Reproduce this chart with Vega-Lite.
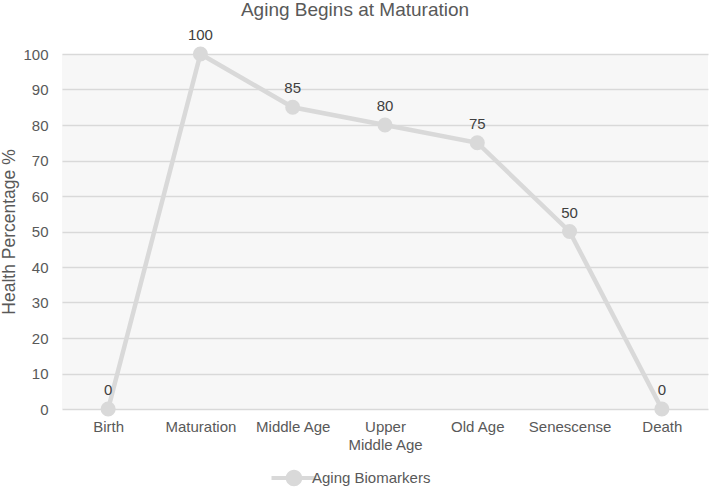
{
  "$schema": "https://vega.github.io/schema/vega-lite/v6.json",
  "width": 646,
  "height": 355,
  "autosize": {"type": "none"},
  "padding": {"left": 62, "top": 54, "right": 1, "bottom": 79},
  "background": "white",
  "config": {
    "view": {"fill": "#f7f7f7", "stroke": null},
    "font": "Liberation Sans"
  },
  "title": {
    "text": "Aging Begins at Maturation",
    "fontSize": 19,
    "fontWeight": "normal",
    "color": "#595959",
    "anchor": "middle",
    "dx": -30,
    "baseline": "alphabetic",
    "offset": -7
  },
  "data": {
    "values": [
      {"stage": "Birth", "health": 0},
      {"stage": "Maturation", "health": 100},
      {"stage": "Middle Age", "health": 85},
      {"stage": "Upper Middle Age", "health": 80},
      {"stage": "Old Age", "health": 75},
      {"stage": "Senescense", "health": 50},
      {"stage": "Death", "health": 0}
    ]
  },
  "encoding": {
    "x": {
      "field": "stage",
      "type": "nominal",
      "sort": null,
      "scale": {"type": "point", "padding": 0.5},
      "axis": {
        "title": null,
        "labelAngle": 0,
        "labelFontSize": 15,
        "labelColor": "#595959",
        "ticks": false,
        "domain": false,
        "grid": false,
        "labelPadding": 10,
        "labelLineHeight": 18,
        "labelLimit": 200,
        "labelExpr": "datum.label == 'Upper Middle Age' ? ['Upper', 'Middle Age'] : datum.label"
      }
    },
    "y": {
      "field": "health",
      "type": "quantitative",
      "scale": {"domain": [0, 100]},
      "axis": {
        "title": "Health Percentage %",
        "titleFontSize": 17.5,
        "titleFontWeight": "normal",
        "titleColor": "#595959",
        "titlePadding": 4,
        "values": [0, 10, 20, 30, 40, 50, 60, 70, 80, 90, 100],
        "labelFontSize": 15,
        "labelColor": "#595959",
        "labelPadding": 14,
        "ticks": false,
        "domain": false,
        "gridColor": "#d9d9d9",
        "gridWidth": 1.3
      }
    }
  },
  "layer": [
    {
      "mark": {"type": "line", "strokeWidth": 4.5},
      "encoding": {
        "color": {
          "datum": "Aging Biomarkers",
          "type": "nominal",
          "scale": {"range": ["#d9d9d9"]},
          "legend": {
            "orient": "none",
            "legendX": 223,
            "legendY": 415,
            "title": null,
            "padding": 0,
            "labelFontSize": 15,
            "labelColor": "#595959",
            "labelOffset": 9,
            "symbolSize": 324,
            "symbolType": "M-2.5,-0.21L2.5,-0.21L2.5,0.21L-2.5,0.21Z M-0.92,0A0.92,0.92 0 1,1 0.92,0A0.92,0.92 0 1,1 -0.92,0Z",
            "symbolFillColor": "#d9d9d9",
            "symbolStrokeColor": "#d9d9d9",
            "symbolStrokeWidth": 0
          }
        }
      }
    },
    {
      "mark": {"type": "circle", "size": 227, "opacity": 1, "color": "#d9d9d9"}
    },
    {
      "mark": {"type": "text", "dy": -14, "baseline": "alphabetic", "fontSize": 15, "color": "#404040"},
      "encoding": {"text": {"field": "health", "type": "quantitative"}}
    }
  ]
}
